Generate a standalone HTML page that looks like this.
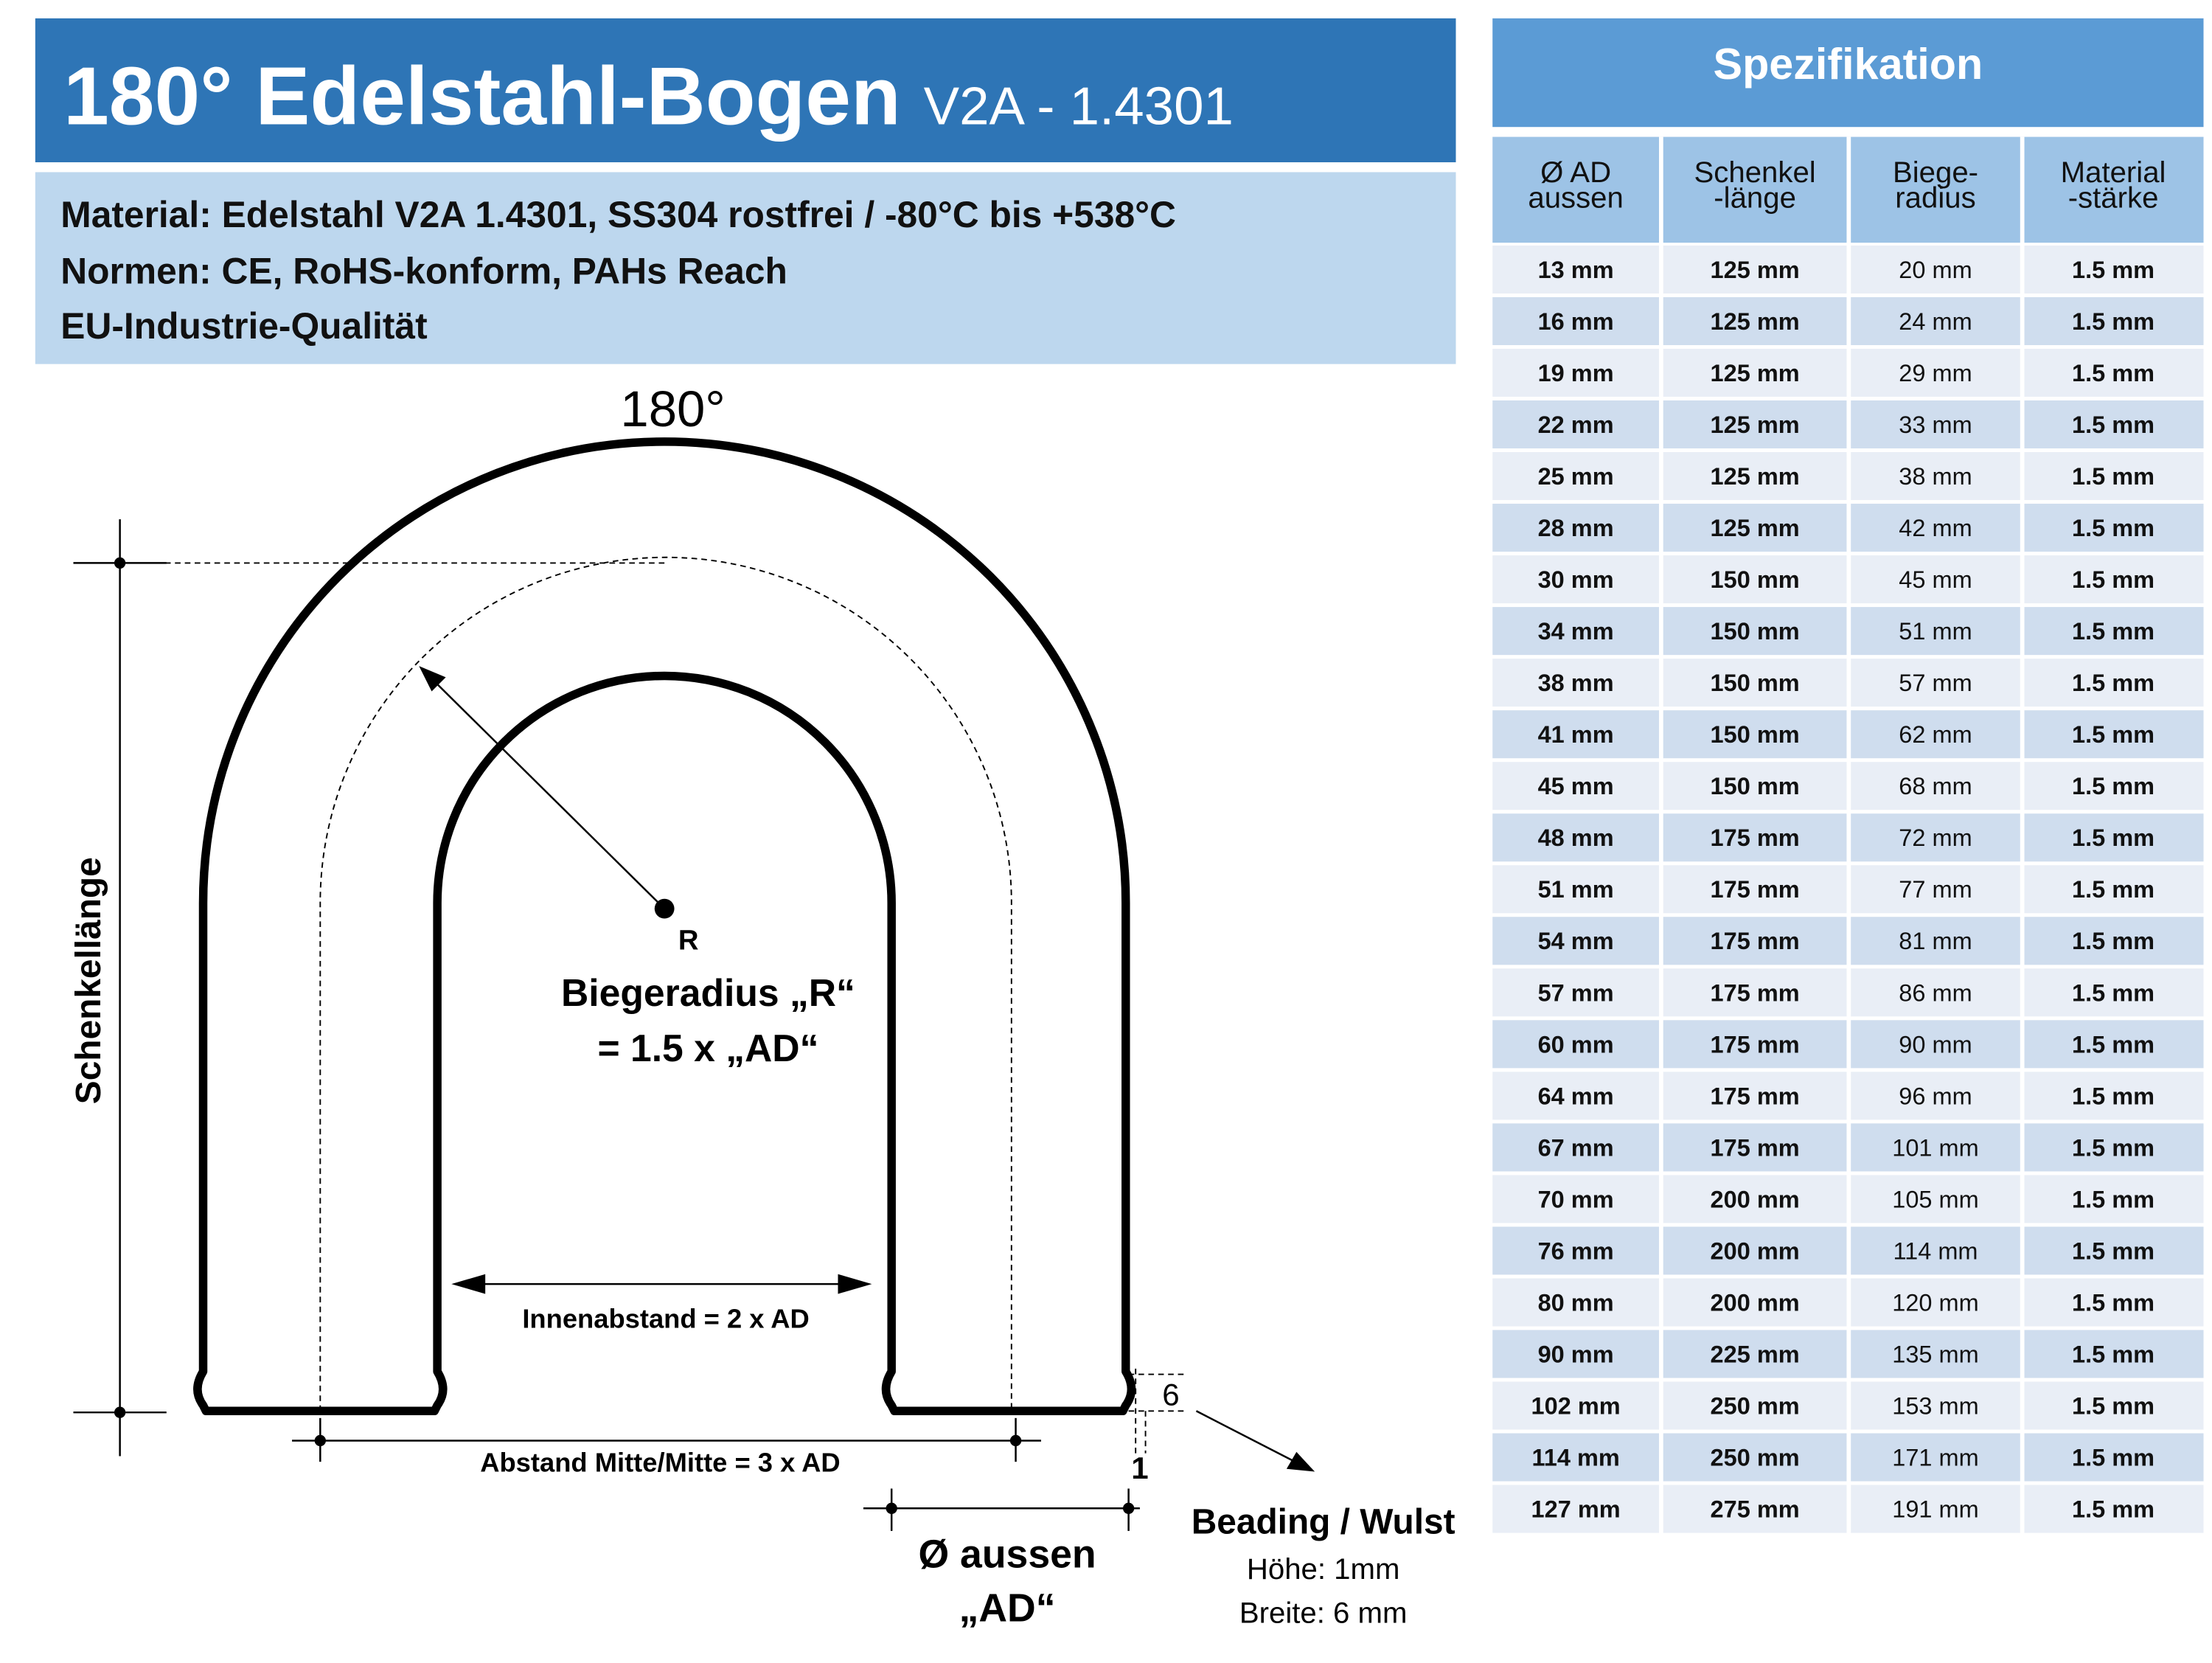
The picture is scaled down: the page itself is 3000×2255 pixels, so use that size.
<!DOCTYPE html>
<html><head><meta charset="utf-8"><style>
html,body{margin:0;padding:0;background:#fff}
svg{display:block}
text{font-family:"Liberation Sans",sans-serif}
.b{font-weight:bold}
.t{font-size:17px;text-anchor:middle}
</style></head><body>
<svg width="3000" height="2255" viewBox="0 0 1568 1178.6" xmlns="http://www.w3.org/2000/svg">
<rect width="1568" height="1178.6" fill="#fff"/>
<!-- Title -->
<rect x="25" y="13" width="1007" height="102" fill="#2E75B6"/>
<text x="45" y="88" fill="#fff" font-size="58" class="b">180° Edelstahl-Bogen <tspan font-weight="normal" font-size="38">V2A - 1.4301</tspan></text>
<rect x="25" y="122" width="1007" height="136" fill="#BDD7EE"/>
<text x="43" y="161" font-size="26" class="b" fill="#111">Material: Edelstahl V2A 1.4301, SS304 rostfrei / -80°C bis +538°C</text>
<text x="43" y="201" font-size="26" class="b" fill="#111">Normen: CE, RoHS-konform, PAHs Reach</text>
<text x="43" y="240" font-size="26" class="b" fill="#111">EU-Industrie-Qualität</text>

<!-- Drawing -->
<g fill="none" stroke="#000" stroke-width="6" stroke-linejoin="round">
<path d="M146 1000 L144 996 Q136 985 144 972 L144 640 A327 327 0 0 1 798 640 L798 972 Q806 985 798 996 L796 1000 L634 1000 L632 996 Q624 985 632 972 L632 640 A161 161 0 0 0 310 640 L310 972 Q318 985 310 996 L308 1000 Z"/>
</g>
<g fill="none" stroke="#000" stroke-width="1" stroke-dasharray="4 3">
<path d="M227 1000 L227 640 A245 245 0 0 1 717 640 L717 1000"/>
<line x1="110" y1="399" x2="471" y2="399"/>
<line x1="805" y1="970" x2="805" y2="1030"/>
<line x1="800" y1="974" x2="842" y2="974"/>
<line x1="800" y1="1000" x2="842" y2="1000"/>
<line x1="812" y1="1000" x2="812" y2="1030"/>
</g>
<g stroke="#000" stroke-width="1.3" fill="none">
<line x1="85" y1="368" x2="85" y2="1032"/>
<line x1="52" y1="399" x2="118" y2="399"/>
<line x1="52" y1="1001" x2="118" y2="1001"/>
<line x1="207" y1="1021" x2="738" y2="1021"/>
<line x1="227" y1="1005" x2="227" y2="1036"/>
<line x1="720" y1="1005" x2="720" y2="1036"/>
<line x1="612" y1="1069" x2="808" y2="1069"/>
<line x1="632" y1="1055" x2="632" y2="1085"/>
<line x1="800" y1="1055" x2="800" y2="1085"/>
<line x1="471" y1="644" x2="305" y2="480"/>
<line x1="340" y1="910" x2="598" y2="910"/>
<line x1="848" y1="1000" x2="918" y2="1036"/>
</g>
<g fill="#000">
<circle cx="85" cy="399" r="4"/><circle cx="85" cy="1001" r="4"/>
<circle cx="227" cy="1021" r="4"/><circle cx="720" cy="1021" r="4"/>
<circle cx="632" cy="1069" r="4"/><circle cx="800" cy="1069" r="4"/>
<circle cx="471" cy="644" r="7"/>
<polygon points="297,472 316,480 306,490"/>
<polygon points="320,910 344,903 344,917"/>
<polygon points="618,910 594,903 594,917"/>
<polygon points="932,1043 912,1041 919,1029"/>
</g>
<text x="477" y="302" font-size="36" text-anchor="middle">180°</text>
<text x="488" y="673" font-size="20" class="b" text-anchor="middle">R</text>
<text x="502" y="713" font-size="27" class="b" text-anchor="middle">Biegeradius „R“</text>
<text x="502" y="752" font-size="27" class="b" text-anchor="middle">= 1.5  x „AD“</text>
<text x="472" y="941" font-size="19" class="b" text-anchor="middle">Innenabstand = 2 x AD</text>
<text x="468" y="1043" font-size="19" class="b" text-anchor="middle">Abstand Mitte/Mitte = 3 x AD</text>
<text transform="translate(71 695) rotate(-90)" font-size="25" class="b" text-anchor="middle">Schenkellänge</text>
<text x="830" y="996" font-size="22" text-anchor="middle">6</text>
<text x="808" y="1048" font-size="22" class="b" text-anchor="middle">1</text>
<text x="714" y="1111" font-size="28" class="b" text-anchor="middle">Ø aussen</text>
<text x="714" y="1149" font-size="28" class="b" text-anchor="middle">„AD“</text>
<text x="938" y="1087" font-size="25" class="b" text-anchor="middle">Beading / Wulst</text>
<text x="938" y="1119" font-size="21" text-anchor="middle">Höhe: 1mm</text>
<text x="938" y="1150" font-size="21" text-anchor="middle">Breite: 6 mm</text>

<!-- Table -->
<rect x="1058" y="13" width="504" height="77" fill="#5B9BD5"/>
<text x="1310" y="56" font-size="31" class="b" fill="#fff" text-anchor="middle">Spezifikation</text>
<rect x="1058" y="97" width="504" height="75" fill="#9DC3E6"/>
<g font-size="21" text-anchor="middle" fill="#111">
<text x="1117" y="129">Ø AD</text><text x="1117" y="147">aussen</text>
<text x="1244" y="129">Schenkel</text><text x="1244" y="147">-länge</text>
<text x="1372" y="129">Biege-</text><text x="1372" y="147">radius</text>
<text x="1498" y="129">Material</text><text x="1498" y="147">-stärke</text>
</g>
<g>
<rect x="1058" y="174.0" width="504" height="34" fill="#E9EEF6"/>
<rect x="1058" y="210.6" width="504" height="34" fill="#CFDDEE"/>
<rect x="1058" y="247.2" width="504" height="34" fill="#E9EEF6"/>
<rect x="1058" y="283.8" width="504" height="34" fill="#CFDDEE"/>
<rect x="1058" y="320.4" width="504" height="34" fill="#E9EEF6"/>
<rect x="1058" y="357.0" width="504" height="34" fill="#CFDDEE"/>
<rect x="1058" y="393.6" width="504" height="34" fill="#E9EEF6"/>
<rect x="1058" y="430.2" width="504" height="34" fill="#CFDDEE"/>
<rect x="1058" y="466.8" width="504" height="34" fill="#E9EEF6"/>
<rect x="1058" y="503.4" width="504" height="34" fill="#CFDDEE"/>
<rect x="1058" y="540.0" width="504" height="34" fill="#E9EEF6"/>
<rect x="1058" y="576.6" width="504" height="34" fill="#CFDDEE"/>
<rect x="1058" y="613.2" width="504" height="34" fill="#E9EEF6"/>
<rect x="1058" y="649.8" width="504" height="34" fill="#CFDDEE"/>
<rect x="1058" y="686.4" width="504" height="34" fill="#E9EEF6"/>
<rect x="1058" y="723.0" width="504" height="34" fill="#CFDDEE"/>
<rect x="1058" y="759.6" width="504" height="34" fill="#E9EEF6"/>
<rect x="1058" y="796.2" width="504" height="34" fill="#CFDDEE"/>
<rect x="1058" y="832.8" width="504" height="34" fill="#E9EEF6"/>
<rect x="1058" y="869.4" width="504" height="34" fill="#CFDDEE"/>
<rect x="1058" y="906.0" width="504" height="34" fill="#E9EEF6"/>
<rect x="1058" y="942.6" width="504" height="34" fill="#CFDDEE"/>
<rect x="1058" y="979.2" width="504" height="34" fill="#E9EEF6"/>
<rect x="1058" y="1015.8" width="504" height="34" fill="#CFDDEE"/>
<rect x="1058" y="1052.4" width="504" height="34" fill="#E9EEF6"/>
</g>
<g fill="#fff">
<rect x="1176" y="97" width="3" height="992"/>
<rect x="1309" y="97" width="3" height="992"/>
<rect x="1432" y="97" width="3" height="992"/>
</g>
<g class="t" fill="#111">
<g class="b">
<text x="1117" y="197">13 mm</text><text x="1117" y="233.6">16 mm</text><text x="1117" y="270.2">19 mm</text><text x="1117" y="306.8">22 mm</text><text x="1117" y="343.4">25 mm</text><text x="1117" y="380">28 mm</text><text x="1117" y="416.6">30 mm</text><text x="1117" y="453.2">34 mm</text><text x="1117" y="489.8">38 mm</text><text x="1117" y="526.4">41 mm</text><text x="1117" y="563">45 mm</text><text x="1117" y="599.6">48 mm</text><text x="1117" y="636.2">51 mm</text><text x="1117" y="672.8">54 mm</text><text x="1117" y="709.4">57 mm</text><text x="1117" y="746">60 mm</text><text x="1117" y="782.6">64 mm</text><text x="1117" y="819.2">67 mm</text><text x="1117" y="855.8">70 mm</text><text x="1117" y="892.4">76 mm</text><text x="1117" y="929">80 mm</text><text x="1117" y="965.6">90 mm</text><text x="1117" y="1002.2">102 mm</text><text x="1117" y="1038.8">114 mm</text><text x="1117" y="1075.4">127 mm</text>
<text x="1244" y="197">125 mm</text><text x="1244" y="233.6">125 mm</text><text x="1244" y="270.2">125 mm</text><text x="1244" y="306.8">125 mm</text><text x="1244" y="343.4">125 mm</text><text x="1244" y="380">125 mm</text><text x="1244" y="416.6">150 mm</text><text x="1244" y="453.2">150 mm</text><text x="1244" y="489.8">150 mm</text><text x="1244" y="526.4">150 mm</text><text x="1244" y="563">150 mm</text><text x="1244" y="599.6">175 mm</text><text x="1244" y="636.2">175 mm</text><text x="1244" y="672.8">175 mm</text><text x="1244" y="709.4">175 mm</text><text x="1244" y="746">175 mm</text><text x="1244" y="782.6">175 mm</text><text x="1244" y="819.2">175 mm</text><text x="1244" y="855.8">200 mm</text><text x="1244" y="892.4">200 mm</text><text x="1244" y="929">200 mm</text><text x="1244" y="965.6">225 mm</text><text x="1244" y="1002.2">250 mm</text><text x="1244" y="1038.8">250 mm</text><text x="1244" y="1075.4">275 mm</text>
<text x="1498" y="197">1.5  mm</text><text x="1498" y="233.6">1.5  mm</text><text x="1498" y="270.2">1.5  mm</text><text x="1498" y="306.8">1.5  mm</text><text x="1498" y="343.4">1.5  mm</text><text x="1498" y="380">1.5  mm</text><text x="1498" y="416.6">1.5  mm</text><text x="1498" y="453.2">1.5  mm</text><text x="1498" y="489.8">1.5  mm</text><text x="1498" y="526.4">1.5  mm</text><text x="1498" y="563">1.5  mm</text><text x="1498" y="599.6">1.5  mm</text><text x="1498" y="636.2">1.5  mm</text><text x="1498" y="672.8">1.5  mm</text><text x="1498" y="709.4">1.5  mm</text><text x="1498" y="746">1.5  mm</text><text x="1498" y="782.6">1.5  mm</text><text x="1498" y="819.2">1.5  mm</text><text x="1498" y="855.8">1.5  mm</text><text x="1498" y="892.4">1.5  mm</text><text x="1498" y="929">1.5  mm</text><text x="1498" y="965.6">1.5  mm</text><text x="1498" y="1002.2">1.5  mm</text><text x="1498" y="1038.8">1.5  mm</text><text x="1498" y="1075.4">1.5  mm</text>
</g>
<text x="1372" y="197">20 mm</text><text x="1372" y="233.6">24 mm</text><text x="1372" y="270.2">29 mm</text><text x="1372" y="306.8">33 mm</text><text x="1372" y="343.4">38 mm</text><text x="1372" y="380">42 mm</text><text x="1372" y="416.6">45 mm</text><text x="1372" y="453.2">51 mm</text><text x="1372" y="489.8">57 mm</text><text x="1372" y="526.4">62 mm</text><text x="1372" y="563">68 mm</text><text x="1372" y="599.6">72 mm</text><text x="1372" y="636.2">77 mm</text><text x="1372" y="672.8">81 mm</text><text x="1372" y="709.4">86 mm</text><text x="1372" y="746">90 mm</text><text x="1372" y="782.6">96 mm</text><text x="1372" y="819.2">101 mm</text><text x="1372" y="855.8">105 mm</text><text x="1372" y="892.4">114 mm</text><text x="1372" y="929">120 mm</text><text x="1372" y="965.6">135 mm</text><text x="1372" y="1002.2">153 mm</text><text x="1372" y="1038.8">171 mm</text><text x="1372" y="1075.4">191 mm</text>
</g>
</svg>
</body></html>
